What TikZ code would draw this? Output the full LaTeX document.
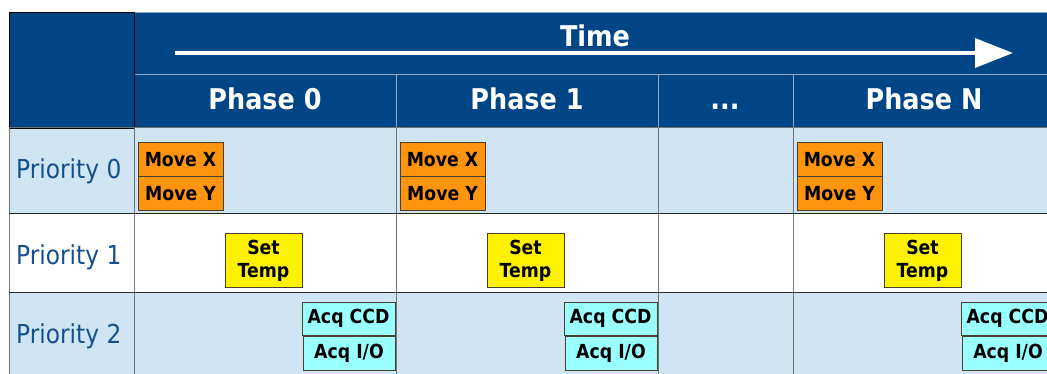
\documentclass[tikz,border=0pt]{standalone}
\usepackage{fontspec}
\setmainfont{DejaVu Sans}
\usetikzlibrary{arrows.meta}
\definecolor{hdr}{HTML}{004586}
\definecolor{rowbl}{HTML}{CFE5F3}
\definecolor{prtxt}{HTML}{15508C}
\definecolor{org}{HTML}{FF950E}
\definecolor{cy}{HTML}{99FFFF}
\definecolor{hline}{HTML}{8FA8C4}
\definecolor{bord}{HTML}{4A4030}
\newcommand{\vsc}[1]{\scalebox{1}[1.12]{#1}}
\tikzset{
  task/.style={draw=bord, line width=1pt, inner sep=0pt, font=\fontsize{17.3}{23}\selectfont\bfseries, text=black, align=center},
  mv/.style={task, fill=org, minimum width=85pt, minimum height=34pt},
  st/.style={task, fill=yellow, minimum width=77pt, minimum height=53pt},
  aq/.style={task, fill=cy, minimum width=92pt, minimum height=34pt},
  ph/.style={anchor=base, text=white, font=\fontsize{25.5}{30}\selectfont\bfseries},
  pr/.style={anchor=base west, text=prtxt, font=\fontsize{23.3}{28}\selectfont, inner sep=0pt},
  grid/.style={draw=black!55, line width=1pt},
  rowl/.style={draw=black!85, line width=1pt},
}
\begin{document}
\begin{tikzpicture}[x=1pt,y=-1pt]
\useasboundingbox (0,0) rectangle (1047,374);
\begin{scope}
\clip (0,0) rectangle (1047,374);
% backgrounds
\fill[hdr] (9,12) rectangle (1060,128);
\fill[rowbl] (9,128) rectangle (1060,214);
\fill[white] (9,214) rectangle (1060,292);
\fill[rowbl] (9,292) rectangle (1060,380);
% header lines
\draw[hline, line width=0.9pt] (134,12) -- (1060,12);
\draw[hline, line width=0.9pt] (134,74) -- (1060,74);
\foreach \x in {396,658,793} \draw[hline, line width=0.9pt] (\x,74) -- (\x,128);
\draw[hline, line width=0.9pt] (134,12) -- (134,128);
\draw[black, line width=0.9pt] (9,12) rectangle (134,128);
% body grid
\foreach \x in {9,134,396,658,793} \draw[grid] (\x,128) -- (\x,380);
\draw[grid] (9,128) -- (1060,128);
\draw[rowl] (9,214) -- (1060,214);
\draw[rowl] (9,292) -- (1060,292);
% time arrow
\coordinate (ts) at (175,53);
\coordinate (te) at (1013,53);
\draw[white, line width=3.5pt, -{Triangle[length=38pt,width=29pt]}] (ts) -- (te);
\node[ph] (time) at (595,47) {\vsc{Time}};
% phase headers
\node[ph] (p0) at (265,109.5) {\vsc{Phase 0}};
\node[ph] (p1) at (527,109.5) {\vsc{Phase 1}};
\node[ph] (pd) at (725,109.5) {\vsc{...}};
\node[ph] (pn) at (924,109.5) {\vsc{Phase N}};
% priority labels
\node[pr] (r0) at (16,179) {\vsc{Priority 0}};
\node[pr] (r1) at (16,265) {\vsc{Priority 1}};
\node[pr] (r2) at (16,343) {\vsc{Priority 2}};
% tasks phase 0
\node[mv] (mx0) at (180.5,160) {\vsc{Move X}};
\node[mv] (my0) at (180.5,194) {\vsc{Move Y}};
\node[st] (st0) at (263.5,260.5) {\vsc{Set}\\\vsc{Temp}};
\node[aq, minimum width=93pt, minimum height=33pt] (ac0) at (348.5,318.5) {\vsc{Acq CCD}};
\node[aq] (ai0) at (349,353) {\vsc{Acq I/O}};
% tasks phase 1
\node[mv] (mx1) at (442.5,160) {\vsc{Move X}};
\node[mv] (my1) at (442.5,194) {\vsc{Move Y}};
\node[st] (st1) at (525.5,260.5) {\vsc{Set}\\\vsc{Temp}};
\node[aq, minimum width=93pt, minimum height=33pt] (ac1) at (610.5,318.5) {\vsc{Acq CCD}};
\node[aq] (ai1) at (611,353) {\vsc{Acq I/O}};
% tasks phase N
\node[mv] (mxn) at (839.5,160) {\vsc{Move X}};
\node[mv] (myn) at (839.5,194) {\vsc{Move Y}};
\node[st] (stn) at (922.5,260.5) {\vsc{Set}\\\vsc{Temp}};
\node[aq, minimum width=93pt, minimum height=33pt] (acn) at (1007.5,318.5) {\vsc{Acq CCD}};
\node[aq] (ain) at (1008,353) {\vsc{Acq I/O}};
\end{scope}
\end{tikzpicture}
\end{document}
